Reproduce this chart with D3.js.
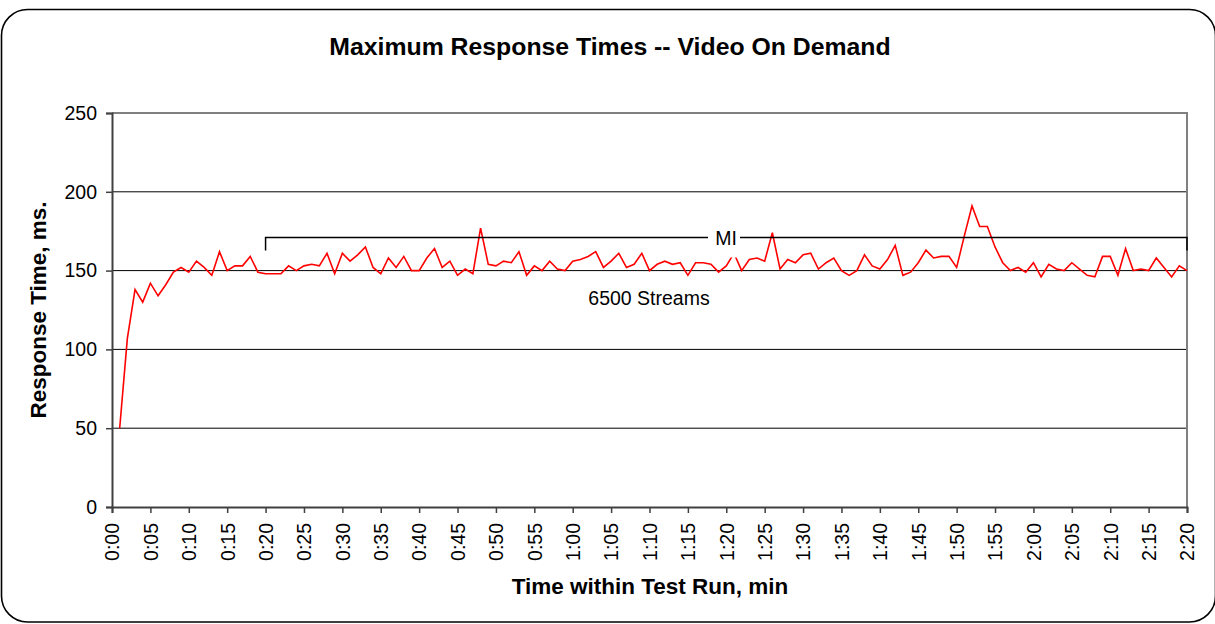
<!DOCTYPE html>
<html>
<head>
<meta charset="utf-8">
<script src="https://cdn.jsdelivr.net/npm/d3@7"></script>
<style>
  html, body { margin: 0; padding: 0; background: #fff; }
  svg { display: block; }
  text { font-family: "Liberation Sans", Arial, Helvetica, sans-serif; fill: #000; }
</style>
</head>
<body>
<svg id="chart" width="1215" height="624"></svg>
<script>
// Minutes into the test run (one sample per minute)
const minutes = d3.range(1, 141);

// Maximum response time per minute, ms
const responseMs = [
  50, 107, 138, 130, 142, 134, 141, 149, 152, 149,
  156, 152, 147, 162, 150, 153, 153, 159, 149, 148,
  148, 148, 153, 150, 153, 154, 153, 161, 148, 161,
  156, 160, 165, 152, 148, 158, 152, 159, 150, 150,
  158, 164, 152, 156, 147, 151, 148, 177, 154, 153,
  156, 155, 162, 147, 153, 150, 156, 151, 150, 156,
  157, 159, 162, 152, 156, 161, 152, 154, 161, 150,
  154, 156, 154, 155, 147, 155, 155, 154, 149, 153,
  161, 150, 157, 158, 156, 174, 151, 157, 155, 160,
  161, 151, 155, 158, 150, 147, 150, 160, 153, 151,
  157, 166, 147, 149, 155, 163, 158, 159, 159, 152,
  172, 191, 178, 178, 165, 155, 150, 152, 149, 155,
  146, 154, 151, 150, 155, 151, 147, 146, 159, 159,
  147, 164, 150, 151, 150, 158, 152, 146, 153, 150
];

// Axis ticks
const yTicks = [0, 50, 100, 150, 200, 250];
const xTickMinutes = [0, 5, 10, 15, 20, 25, 30, 35, 40, 45, 50, 55, 60, 65, 70,
  75, 80, 85, 90, 95, 100, 105, 110, 115, 120, 125, 130, 135, 140];
const xTickLabels = ["0:00", "0:05", "0:10", "0:15", "0:20", "0:25", "0:30", "0:35",
  "0:40", "0:45", "0:50", "0:55", "1:00", "1:05", "1:10", "1:15", "1:20", "1:25",
  "1:30", "1:35", "1:40", "1:45", "1:50", "1:55", "2:00", "2:05", "2:10", "2:15", "2:20"];

// Measurement interval bracket and annotations
const miStart = 20, miEnd = 140, miBracketValue = 171;
const miLabel = "MI";
const streamsLabel = "6500 Streams";

const svg = d3.select("#chart");

// Rounded chart frame
svg.append("rect")
  .attr("x", 1.5).attr("y", 9.5)
  .attr("width", 1214).attr("height", 612.5)
  .attr("rx", 26).attr("ry", 26)
  .attr("fill", "#fff").attr("stroke", "#000").attr("stroke-width", 1.6);

const plot = { left: 112, right: 1187, top: 113, bottom: 507 };

const x = d3.scaleLinear().domain([0, 140]).range([plot.left, plot.right]);
const y = d3.scaleLinear().domain([0, 250]).range([plot.bottom, plot.top]);

// Title
svg.append("text")
  .attr("x", 610).attr("y", 55)
  .attr("text-anchor", "middle")
  .style("font-size", "24.8px").style("font-weight", "bold")
  .text("Maximum Response Times -- Video On Demand");

// Horizontal gridlines
svg.append("g")
  .selectAll("line")
  .data(yTicks.filter(v => v > 0 && v < 250))
  .join("line")
  .attr("x1", plot.left).attr("x2", plot.right)
  .attr("y1", d => y(d)).attr("y2", d => y(d))
  .attr("stroke", "#000").attr("stroke-width", 1);

// Plot area border (top and right)
svg.append("path")
  .attr("d", `M${plot.left},${y(250)}H${plot.right}V${plot.bottom}`)
  .attr("fill", "none").attr("stroke", "#808080").attr("stroke-width", 2);

// Y axis
const yAxis = svg.append("g")
  .attr("transform", `translate(${plot.left},0)`)
  .call(d3.axisLeft(y).tickValues(yTicks).tickSize(6).tickPadding(9));
yAxis.select(".domain").attr("stroke", "#404040").attr("stroke-width", 2);
yAxis.selectAll(".tick line").attr("stroke", "#404040").attr("stroke-width", 1.5);
yAxis.selectAll(".tick text")
  .style("font-size", "19.5px").style("font-family", "'Liberation Sans', Arial, sans-serif")
  .attr("fill", "#000");

// X axis
const xAxis = svg.append("g")
  .attr("transform", `translate(0,${plot.bottom})`)
  .call(d3.axisBottom(x).tickValues(xTickMinutes).tickSize(6)
    .tickFormat((d, i) => xTickLabels[i]));
xAxis.select(".domain").attr("stroke", "#404040").attr("stroke-width", 2);
xAxis.selectAll(".tick line").attr("stroke", "#404040").attr("stroke-width", 1.5);
xAxis.selectAll(".tick text")
  .attr("transform", "rotate(-90)")
  .attr("x", -16).attr("y", 0).attr("dy", "0.35em")
  .attr("text-anchor", "end")
  .style("font-size", "19.5px").style("font-family", "'Liberation Sans', Arial, sans-serif")
  .attr("fill", "#000");

// Axis titles
svg.append("text")
  .attr("transform", `translate(46,310) rotate(-90)`)
  .attr("text-anchor", "middle")
  .style("font-size", "22.5px").style("font-weight", "bold")
  .text("Response Time, ms.");

svg.append("text")
  .attr("x", 650).attr("y", 594)
  .attr("text-anchor", "middle")
  .style("font-size", "22.5px").style("font-weight", "bold")
  .text("Time within Test Run, min");

// Response time series
const line = d3.line()
  .x((d, i) => x(minutes[i]))
  .y(d => y(d));

svg.append("path")
  .datum(responseMs)
  .attr("d", line)
  .attr("fill", "none")
  .attr("stroke", "#ff0000")
  .attr("stroke-width", 1.6)
  .attr("stroke-linejoin", "miter");

// Measurement interval bracket
const by = y(miBracketValue);
svg.append("path")
  .attr("d", `M${x(miStart)},${by + 13}V${by}H${x(miEnd)}V${by + 13}`)
  .attr("fill", "none").attr("stroke", "#000").attr("stroke-width", 1.5);

// MI label box (opaque, sits over the series)
const miX = 726;
svg.append("rect")
  .attr("x", miX - 18).attr("y", by - 14)
  .attr("width", 32).attr("height", 34)
  .attr("fill", "#fff");
svg.append("text")
  .attr("x", miX).attr("y", by + 7)
  .attr("text-anchor", "middle")
  .style("font-size", "19.5px")
  .text(miLabel);

svg.append("text")
  .attr("x", 649).attr("y", 305)
  .attr("text-anchor", "middle")
  .style("font-size", "19.5px")
  .text(streamsLabel);
</script>
</body>
</html>
